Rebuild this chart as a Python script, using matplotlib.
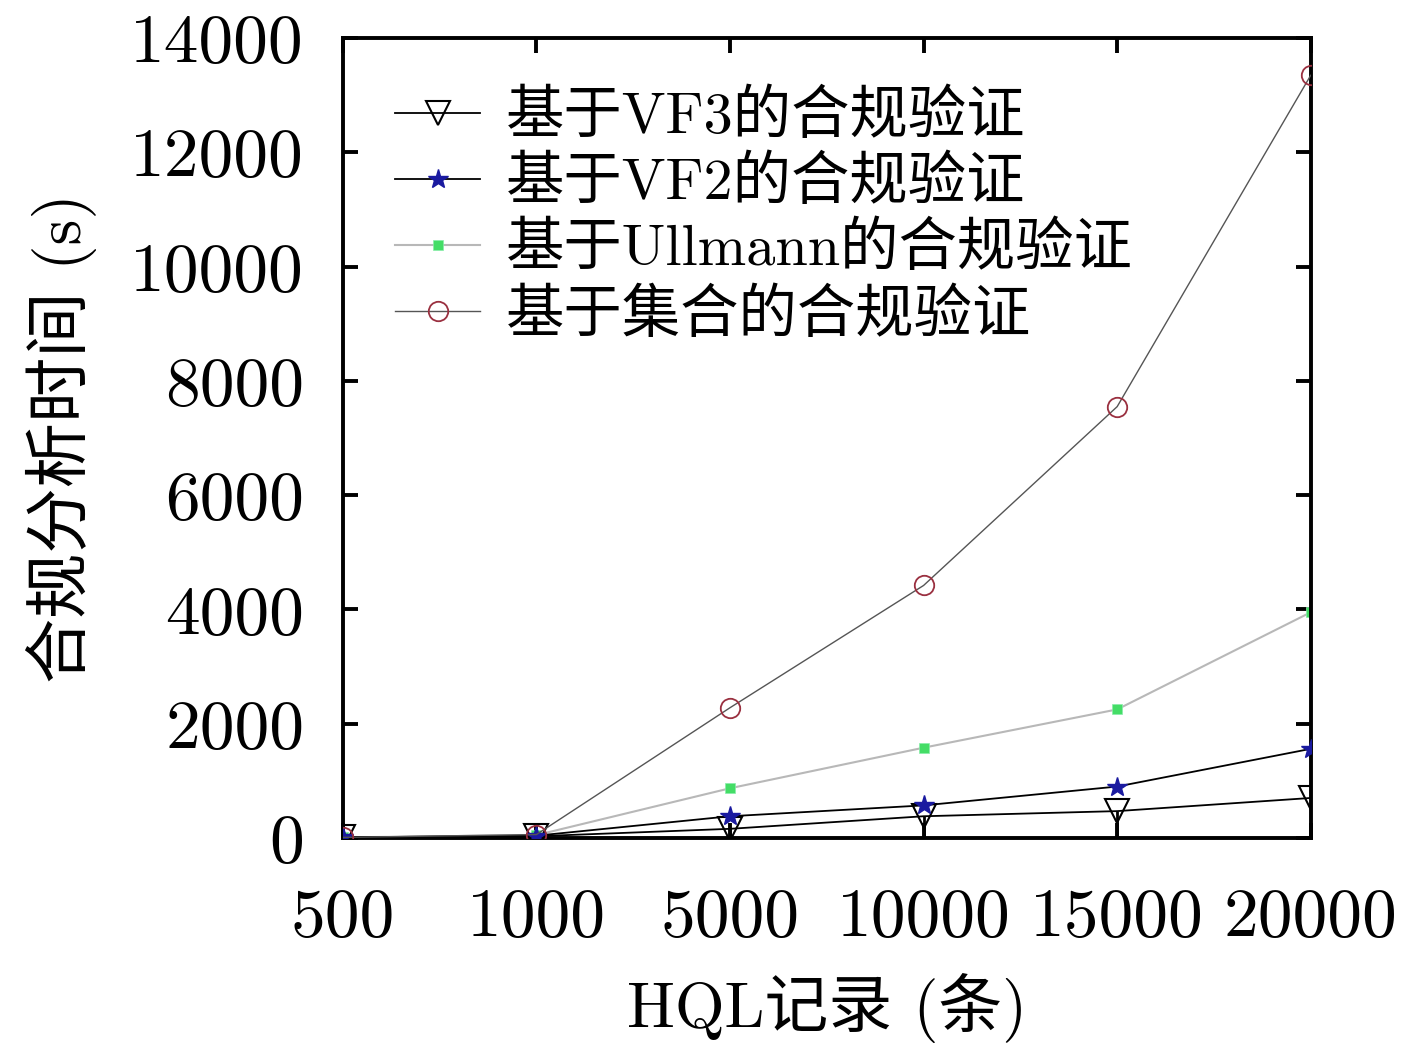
import matplotlib
matplotlib.use('Agg')
import matplotlib.pyplot as plt

plt.rcParams['font.family'] = ['cmr10', 'Noto Sans CJK SC', 'DejaVu Serif']
plt.rcParams['axes.unicode_minus'] = False
plt.rcParams['axes.formatter.use_mathtext'] = True

# data
records = ['500', '1000', '5000', '10000', '15000', '20000']
vf3 = [10, 30, 160, 380, 470, 700]
vf2 = [10, 40, 380, 570, 900, 1560]
ullmann = [10, 50, 870, 1580, 2250, 3950]
set_based = [10, 60, 2280, 4420, 7550, 13350]
labels = ['基于VF3的合规验证', '基于VF2的合规验证', '基于Ullmann的合规验证', '基于集合的合规验证']

fig = plt.figure(figsize=(14.17, 10.51), dpi=100)
ax = fig.add_axes([0.242, 0.2027, 0.683, 0.761])
x = list(range(len(records)))

# VF3 stems down to zero
ax.vlines(x, 0, vf3, color='black', lw=2.0, zorder=3)
ax.plot(x, vf3, color='black', lw=1.3, marker='v', ms=17, mfc='none',
        mec='black', mew=1.5, label=labels[0], zorder=3)
ax.plot(x, vf2, color='black', lw=1.3, marker='*', ms=15, mfc='#1a1aa0',
        mec='#1a1aa0', mew=1.0, label=labels[1], zorder=3)
ax.plot(x, ullmann, color='#b8b8b8', lw=1.5, marker='s', ms=7, mfc='#44dd66',
        mec='#88eeaa', mew=0.5, label=labels[2], zorder=2)
ax.plot(x, set_based, color='#555555', lw=1.0, marker='o', ms=14, mfc='none',
        mec='#9a3040', mew=1.3, label=labels[3], zorder=3)

ax.set_xlim(0, len(records) - 1)
ax.set_ylim(0, 14000)
ax.set_xticks(x)
ax.set_xticklabels(records)
ax.set_yticks(range(0, 14001, 2000))
ax.set_yticklabels([str(v) for v in range(0, 14001, 2000)])
ax.tick_params(axis='both', direction='in', length=11, width=2.8, labelsize=50,
               top=True, right=True)
ax.tick_params(axis='x', pad=36)
ax.tick_params(axis='y', pad=28)
for s in ax.spines.values():
    s.set_linewidth(2.8)

ax.set_xlabel('HQL记录 (条)', fontsize=46, labelpad=17)
ax.set_ylabel('合规分析时间 (s)', fontsize=47, labelpad=24)

ax.legend(loc='upper left', frameon=False, fontsize=42, handlelength=1.45,
          handletextpad=0.45, labelspacing=0.2, borderaxespad=0.0,
          bbox_to_anchor=(0.03, 0.965))

fig.savefig('out.png', dpi=100)
